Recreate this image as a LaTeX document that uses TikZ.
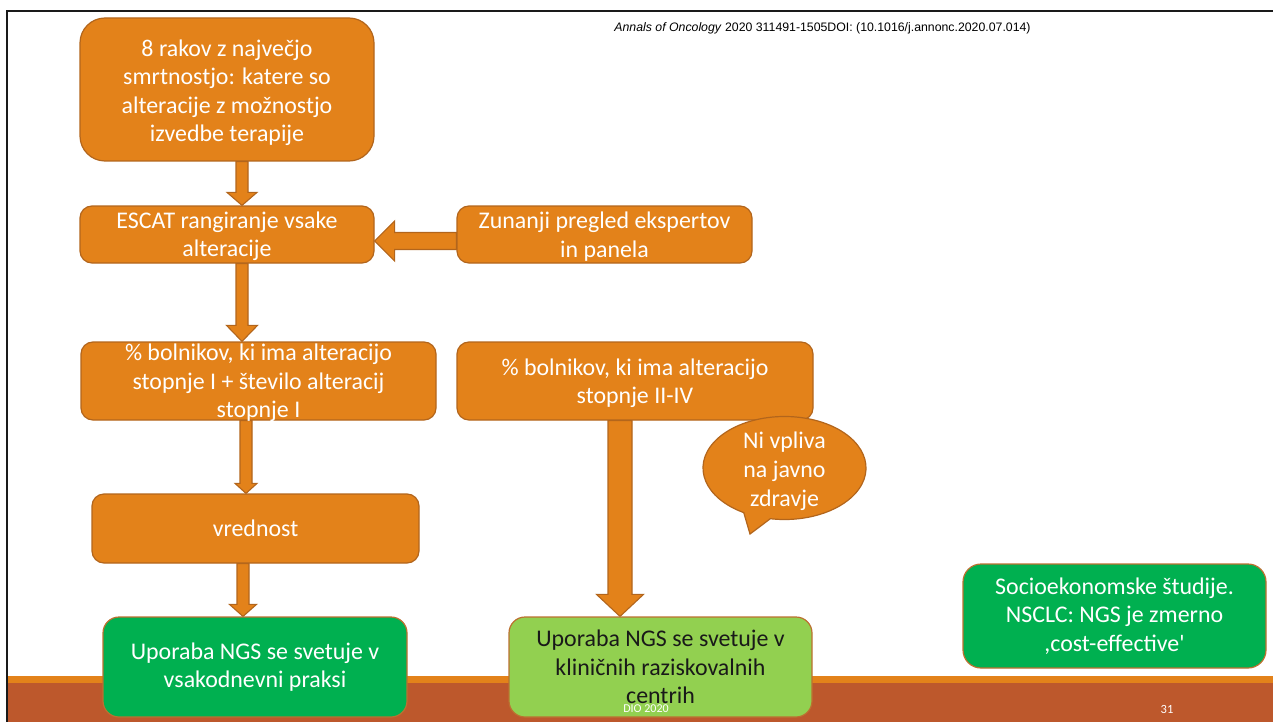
\documentclass[tikz,border=0pt]{standalone}
\usepackage{fontspec}
\setmainfont{Carlito}
\newfontfamily\citefont{Liberation Sans}
\usetikzlibrary{calc,backgrounds}

\definecolor{boxorange}{HTML}{E3821A}
\definecolor{boxedge}{HTML}{B2651C}
\definecolor{barbrown}{HTML}{BD582C}
\definecolor{boxgreen}{HTML}{00B050}
\definecolor{lightgreen}{HTML}{92D050}
\definecolor{greenedge}{HTML}{BC7030}
\definecolor{framegray}{HTML}{1A1A1A}

\newcommand{\mainsize}{\fontsize{23.9}{28.5}\selectfont}

\tikzset{
  card/.style={draw=boxedge, line width=1.2pt, fill=boxorange, text=white,
    align=center, inner sep=0pt, font=\mainsize, rounded corners=12pt},
  greencard/.style={card, draw=greenedge, fill=boxgreen},
  palecard/.style={card, draw=greenedge, fill=lightgreen, text=black!90},
  cardtext/.style={text=white, align=center, inner sep=0pt, font=\mainsize},
  blk/.style={draw=boxedge, line width=1.1pt, fill=boxorange, line join=miter},
}

% vertical block arrow: from, to, x centre, half shaft, half head, head length
\newcommand{\blockdown}[6]{%
  \draw[blk] let \p1=(#1.south), \p2=(#2.north) in
    (#3pt-#4pt,\y1) -- (#3pt+#4pt,\y1) -- (#3pt+#4pt,\y2+#6pt)
    -- (#3pt+#5pt,\y2+#6pt) -- (#3pt,\y2) -- (#3pt-#5pt,\y2+#6pt)
    -- (#3pt-#4pt,\y2+#6pt) -- cycle;}
% leftward block arrow: from, to, y centre, half shaft, half head, head length
\newcommand{\blockleft}[6]{%
  \draw[blk] let \p1=(#1.west), \p2=(#2.east) in
    (\x1,-#3pt+#4pt) -- (\x2+#6pt,-#3pt+#4pt) -- (\x2+#6pt,-#3pt+#5pt)
    -- (\x2,-#3pt) -- (\x2+#6pt,-#3pt-#5pt) -- (\x2+#6pt,-#3pt-#4pt)
    -- (\x1,-#3pt-#4pt) -- cycle;}

\begin{document}
\begin{tikzpicture}[x=1pt,y=-1pt]
\useasboundingbox (0,0) rectangle (1273,722);

% footer band and slide frame
\begin{scope}[on background layer]
  \fill[boxorange] (8,676) rectangle (1273,683);
  \fill[barbrown] (8,683) rectangle (1273,722);
  \draw[framegray, line width=2.2pt] (7,722) -- (7,11) -- (1273,11);
\end{scope}

% source reference
\node[font=\citefont\fontsize{12.3}{14}\selectfont, inner sep=0pt] (cite) at (822.5,28)
  {\textit{Annals of Oncology} 2020 311491-1505DOI: (10.1016/j.annonc.2020.07.014)};

% flow boxes
\node[card, minimum width=294pt, minimum height=143pt, rounded corners=25pt] (b1) at (227,89.5) {};
\node[cardtext] (b1t) at (227,93)
  {8 rakov z največjo\\smrtnostjo: katere so\\alteracije z možnostjo\\izvedbe terapije};
\node[card, minimum width=294pt, minimum height=57pt] (b2) at (227,234.5) {};
\node[cardtext] (b2t) at (227,236.5) {ESCAT rangiranje vsake\\alteracije};
\node[card, minimum width=295pt, minimum height=57pt] (b3) at (604.5,234.5) {};
\node[cardtext] (b3t) at (604.5,236.5) {Zunanji pregled ekspertov\\in panela};
\node[card, minimum width=355pt, minimum height=78pt] (b4) at (258.5,381) {};
\node[cardtext] (b4t) at (258.5,383)
  {\% bolnikov, ki ima alteracijo\\stopnje I + število alteracij\\stopnje I};
\node[card, minimum width=356pt, minimum height=78pt] (b5) at (635,381) {};
\node[cardtext] (b5t) at (635,383) {\% bolnikov, ki ima alteracijo\\stopnje II-IV};
\node[card, minimum width=327pt, minimum height=69pt] (b6) at (255.5,528.5) {vrednost};
\node[greencard, minimum width=304pt, minimum height=100pt, rounded corners=16pt] (b7) at (255,667)
  {Uporaba NGS se svetuje v\\vsakodnevni praksi};
\node[palecard, minimum width=303pt, minimum height=100pt, rounded corners=16pt] (b8) at (660.5,667)
  {Uporaba NGS se svetuje v\\kliničnih raziskovalnih\\centrih};
\node[greencard, minimum width=303pt, minimum height=104pt, rounded corners=18pt] (b9) at (1114.5,616)
  {Socioekonomske študije.\\NSCLC: NGS je zmerno\\,cost-effective\textquotesingle};

% block arrows between the boxes
\begin{scope}[on background layer]
  \blockdown{b1}{b2}{242}{6}{15}{13}
  \blockleft{b3}{b2}{241}{8.5}{20}{20}
  \blockdown{b2}{b4}{242}{6}{15.5}{16}
  \blockdown{b4}{b6}{246}{6}{11}{10}
  \blockdown{b6}{b7}{243}{6}{13.5}{12}
  \blockdown{b5}{b8}{620}{12}{23.5}{22}
\end{scope}

% speech bubble
\path[fill=boxorange, draw=boxedge, line width=1.2pt]
  (784.5,468) ++(240:81.5pt and 51.5pt)
  arc[start angle=240, end angle=-100, x radius=81.5pt, y radius=51.5pt]
  -- (750,534) -- cycle;
\node[cardtext, font=\fontsize{23.9}{29}\selectfont] (bubble) at (784.5,471)
  {Ni vpliva\\na javno\\zdravje};

% footer texts
\node[text=white, font=\fontsize{12}{14}\selectfont, inner sep=0pt] (foot) at (646,709) {DIO 2020};
\node[text=white, font=\fontsize{12.5}{14}\selectfont, inner sep=0pt] (page) at (1167,709) {31};
\end{tikzpicture}
\end{document}
